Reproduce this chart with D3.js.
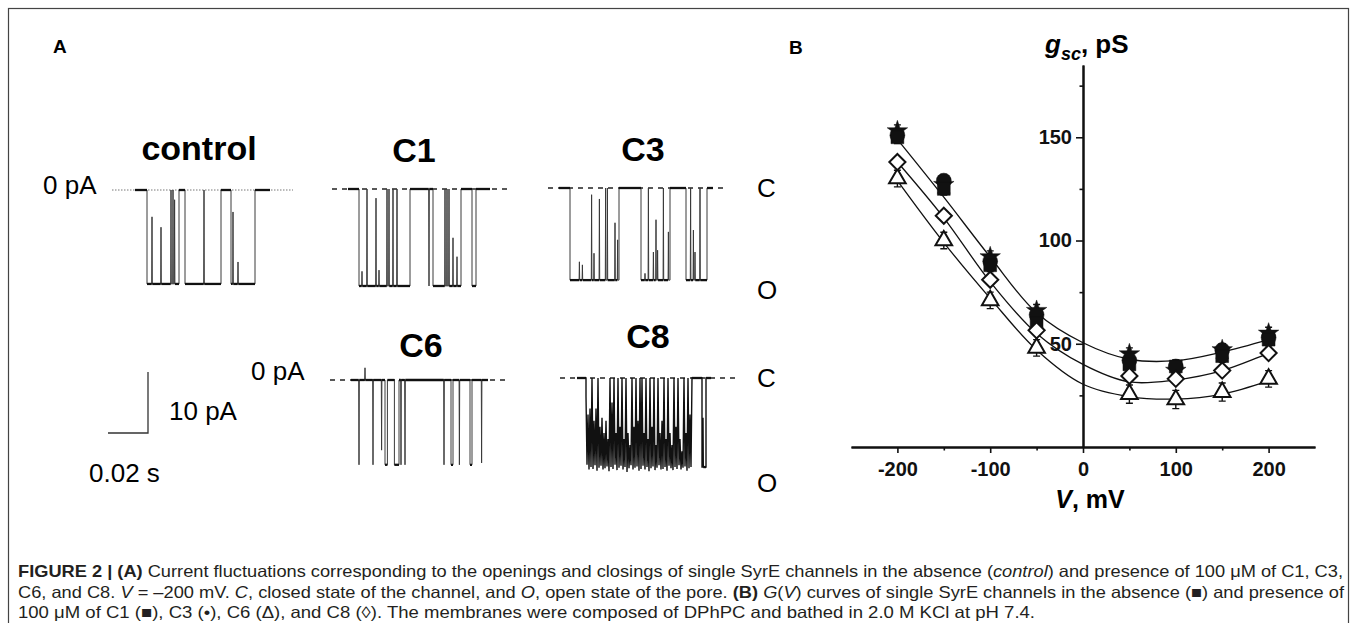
<!DOCTYPE html>
<html>
<head>
<meta charset="utf-8">
<script src="https://cdn.jsdelivr.net/npm/d3@7"></script>
<style>
  body { margin: 0; background: #fff; }
  svg { display: block; font-family: "Liberation Sans", Arial, sans-serif; }
</style>
</head>
<body>
<svg id="fig" width="1357" height="623"></svg>
<script>
// ---------- panel A : single channel records (time in ms, current in pA) ----------
// open dwell intervals [from, to] and brief excursions [time, current reached]
var ctrlOpen = [[6, 22], [25, 43], [48, 60]];
var ctrlSpikes = [[8.5, -4.4], [13, -6.1], [18, 0], [19, 0], [19.8, -1.6], [34.5, 0], [49, -3.6], [51.5, -11.8]];

var c1Open = [[5.5, 31], [42.5, 56.5], [62, 64]];
var c1Spikes = [[7, -13.5], [9.5, 0], [14, -1.5], [15.5, -13.3], [19.5, 0], [20.5, 0], [22.5, 0], [24.5, 0],
                [40.5, -15.9], [48.5, 0], [49.5, 0], [50.5, 0], [52.5, -8], [54.5, -11.1]];

var c3Open = [[5.5, 30], [41, 55.5], [63.5, 74]];
var c3Spikes = [[10.2, -12.1], [11.7, -12.6], [16.3, -1.1], [17.5, -10.7], [20.2, -1.8], [23.3, 0], [24.2, 0],
                [28, -5.7], [29.3, -8.5], [43, -14], [44.7, 0], [47.2, -10.5], [48.5, -5.2], [49.3, -10.2],
                [52.2, 0], [54.7, -7.2], [65.8, 0], [67.2, -6.9], [68, -10.5], [70.5, 0]];

var c6Open = [[17, 18.2], [21.7, 24], [50, 51], [59.5, 60.5]];
var c6Spikes = [[4, -13.9], [7, 2], [11, -13.9], [15.3, -11.5], [25, -13.9], [27, -13.9],
                [46.5, -13.9], [54.2, -13.9], [65.3, -13.6]];

var c8Open = [[62.5, 64.5]];
var c8Spikes = [[63, -6.5]];
// fast flicker burst of C8 (4.5 - 57.5 ms): shallow peaks and deep (open) troughs, one pair per ms
var c8Shallow = [-3, -6, -5, 0, -7, -5, 0, -8, -6.5, -9, -7, -10, 0, -4, 0, -9, 0, -8, 0, -10, 0, -9, -11, 0,
                 -8, 0, -7, 0, 0, -9, 0, -10, 0, -8, 0, -11, 0, -9, -7, 0, -10, 0, -9, -11, 0, -8, 0, -10,
                 -12, 0, -9, 0, -6];
var c8Deep = [-14.2, -15.0, -14.6, -14.9, -14.3, -15.2, -14.7, -14.4, -15.0, -14.8, -14.5, -15.3, -14.6,
              -14.9, -14.2, -15.1, -14.7, -14.4, -15.0, -14.6, -15.4, -14.8, -14.3, -15.0, -14.7, -14.5,
              -15.2, -14.9, -14.4, -15.0, -14.6, -15.3, -14.8, -14.5, -15.1, -14.7, -14.3, -15.0, -14.9,
              -14.6, -15.2, -14.4, -14.8, -15.1, -14.6, -14.9, -14.3, -15.0, -14.7, -14.5, -15.2, -14.8, -14.6];

var traceNames = ["control", "C1", "C3", "C6", "C8"];
var openAmps = [-15.4, -15.9, -15.1, -13.9, -14.6];   // pA
var traceEnds = [67.5, 71, 77, 68.5, 67];             // ms

// ---------- panel B : g(V) ----------
var vPoints = [-200, -150, -100, -50, 50, 100, 150, 200];
var gControl = [150, 125, 88, 60, 40, 39, 44, 52];      // filled square
var gC1 = [153, 127, 92, 66, 45, 37, 47, 55];           // star
var gC3 = [151, 129, 90, 64, 42, 39, 47, 53];           // filled circle
var gC6 = [130, 100, 71, 48, 25.6, 23, 26.6, 33];       // open triangle
var gC8 = [138, 112, 81, 56.5, 34.4, 33, 37, 45.5];     // open diamond
var errFilled = [3, 3, 3, 3, 3, 3, 3, 3];
var errC6 = [4, 4, 4, 4, 4.4, 4.4, 4.4, 4];
var errC8 = [2, 2, 2, 2, 2, 2, 2, 2];

var fitV = [-200, -150, -100, -50, 0, 50, 100, 150, 200];
var fitTop = [149, 121, 92, 65, 50.5, 42.5, 41.8, 46, 52];
var fitMid = [138, 111, 80, 55, 40, 31.5, 32.5, 37, 45.5];
var fitLow = [129, 99, 72, 47, 30.4, 24.4, 23.2, 25.6, 32];

var xTicksMajor = [-200, -100, 0, 100, 200];
var xTicksMinor = [-150, -50, 50, 150];
var yTicksMajor = [50, 100, 150];
var yTicksMinor = [25, 75, 125, 175];

var svg = d3.select("#fig");

// frame
svg.append("rect")
    .attr("x", 8.5).attr("y", 8.5)
    .attr("width", 1340).attr("height", 700)
    .attr("fill", "none").attr("stroke", "#444").attr("stroke-width", 1.2);

svg.append("text").attr("x", 53).attr("y", 53)
    .style("font-size", "19px").style("font-weight", "bold").text("A");
svg.append("text").attr("x", 789).attr("y", 54)
    .style("font-size", "19px").style("font-weight", "bold").text("B");

// ================= panel A =================
var gA = svg.append("g");

// where each record sits: time origin, closed level, baseline extent, label
var layout = [
    {x0: 135, y0: 190, base: [-11.5, 79], dotted: true, lx: 199, ly: 160},
    {x0: 348, y0: 189, base: [-8, 82], lx: 414, ly: 162},
    {x0: 559, y0: 188, base: [-5.5, 84.5], lx: 643, ly: 161},
    {x0: 351, y0: 380, base: [-10.5, 79.5], lx: 421, ly: 357},
    {x0: 577, y0: 378, base: [-8.5, 81.5], lx: 648, ly: 348}
];
var opens = [ctrlOpen, c1Open, c3Open, c6Open, c8Open];
var spikes = [ctrlSpikes, c1Spikes, c3Spikes, c6Spikes, c8Spikes];
var bursts = [null, null, null, null, {start: 4.5, end: 57.5, shallow: c8Shallow, deep: c8Deep}];

var pxPerMs = 2, pxPerPa = 6.1;

function buildPoints(i) {
    var amp = openAmps[i];
    var items = [];
    opens[i].forEach(function(d) {
        items.push({t: d[0], type: "down"});
        items.push({t: d[1], type: "up"});
    });
    spikes[i].forEach(function(d) { items.push({t: d[0], type: "spike", v: d[1]}); });
    if (bursts[i]) items.push({t: bursts[i].start, type: "burst"});
    items.sort(function(a, b) { return a.t - b.t; });

    var level = 0, pts = [[0, 0]];
    items.forEach(function(it) {
        if (it.type == "down") {
            pts.push([it.t, level]); level = amp; pts.push([it.t, level]);
        } else if (it.type == "up") {
            pts.push([it.t, level]); level = 0; pts.push([it.t, level]);
        } else if (it.type == "spike") {
            pts.push([it.t - 0.15, level]); pts.push([it.t, it.v]); pts.push([it.t + 0.15, level]);
        } else {
            var b = bursts[i];
            pts.push([b.start, level]);
            var n = Math.min(b.shallow.length, b.deep.length);
            for (var k = 0; k < n; k++) {
                pts.push([b.start + k, b.shallow[k]]);
                pts.push([b.start + k + 0.5, b.deep[k]]);
            }
            pts.push([b.end, level]);
        }
    });
    pts.push([traceEnds[i], level]);
    return pts;
}

layout.forEach(function(L, i) {
    var x = d3.scaleLinear().domain([0, 20]).range([L.x0, L.x0 + 20 * pxPerMs]);
    var y = d3.scaleLinear().domain([0, -10]).range([L.y0, L.y0 + 10 * pxPerPa]);

    // closed-level reference line
    gA.append("line")
        .attr("x1", x(L.base[0])).attr("x2", x(L.base[1]))
        .attr("y1", y(0)).attr("y2", y(0))
        .attr("stroke", L.dotted ? "#777" : "#222")
        .attr("stroke-width", L.dotted ? 1 : 1.3)
        .attr("stroke-dasharray", L.dotted ? "1.5,1.5" : "5,5");

    var pts = buildPoints(i);
    var line = d3.line().x(function(d) { return x(d[0]); }).y(function(d) { return y(d[1]); });

    gA.append("path").attr("d", line(pts))
        .attr("fill", "none")
        .attr("stroke", bursts[i] ? "#111" : "#3a3a3a")
        .attr("stroke-width", bursts[i] ? 1.4 : 1);

    // noisy dwell levels look thicker
    for (var k = 0; k < pts.length - 1; k++) {
        if (pts[k][1] === pts[k + 1][1] && pts[k + 1][0] - pts[k][0] > 0.8) {
            gA.append("line")
                .attr("x1", x(pts[k][0])).attr("x2", x(pts[k + 1][0]))
                .attr("y1", y(pts[k][1])).attr("y2", y(pts[k][1]))
                .attr("stroke", "#111").attr("stroke-width", 2.3);
        }
    }

    gA.append("text").attr("x", L.lx).attr("y", L.ly)
        .attr("text-anchor", "middle")
        .style("font-size", "34px").style("font-weight", "bold")
        .text(traceNames[i]);
});

var plain = function(x, y, t) {
    return gA.append("text").attr("x", x).attr("y", y).style("font-size", "26px").text(t);
};
plain(43, 194, "0 pA");
plain(251, 380, "0 pA");
plain(757, 197, "C");
plain(757, 299, "O");
plain(757, 387, "C");
plain(757, 492, "O");

// scale bar: 20 ms and 10 pA
var sbX = d3.scaleLinear().domain([0, 20]).range([108, 108 + 20 * pxPerMs]);
var sbY = d3.scaleLinear().domain([0, 10]).range([433, 433 - 10 * pxPerPa]);
gA.append("path")
    .attr("d", "M" + sbX(0) + "," + sbY(0) + "H" + sbX(20) + "V" + sbY(10))
    .attr("fill", "none").attr("stroke", "#333").attr("stroke-width", 1.3);
plain(169, 420, "10 pA");
plain(89, 482, "0.02 s");

// ================= panel B =================
var xB = d3.scaleLinear().domain([-250, 250]).range([851, 1315]);
var yB = d3.scaleLinear().domain([0, 185]).range([447, 65]);
var gB = svg.append("g");

var xAxis = gB.append("g").attr("transform", "translate(0," + yB(0) + ")")
    .call(d3.axisBottom(xB).tickValues(xTicksMajor).tickSize(6).tickSizeOuter(0).tickPadding(9)
        .tickFormat(function(d) { return String(d); }));
gB.append("g").attr("transform", "translate(0," + yB(0) + ")")
    .call(d3.axisBottom(xB).tickValues(xTicksMinor).tickSize(3.5).tickSizeOuter(0).tickFormat(""));

var yAxis = gB.append("g").attr("transform", "translate(" + xB(0) + ",0)")
    .call(d3.axisLeft(yB).tickValues(yTicksMajor).tickSize(7).tickSizeOuter(0).tickPadding(4));
gB.append("g").attr("transform", "translate(" + xB(0) + ",0)")
    .call(d3.axisLeft(yB).tickValues(yTicksMinor).tickSize(3.5).tickSizeOuter(0).tickFormat(""));

gB.selectAll(".domain").attr("stroke", "#111").attr("stroke-width", 2);
gB.selectAll(".tick line").attr("stroke", "#111").attr("stroke-width", 1.6);
gB.selectAll(".tick text")
    .attr("fill", "#111")
    .style("font-family", "'Liberation Sans', Arial, sans-serif")
    .style("font-size", "20px").style("font-weight", "bold");

// axis titles
gB.append("text").attr("x", 1090).attr("y", 508).attr("text-anchor", "middle")
    .style("font-size", "25px").style("font-weight", "bold")
    .call(function(t) {
        t.append("tspan").style("font-style", "italic").text("V");
        t.append("tspan").text(", mV");
    });
gB.append("text").attr("x", 1045).attr("y", 53)
    .style("font-size", "26px").style("font-weight", "bold")
    .call(function(t) {
        t.append("tspan").style("font-style", "italic").text("g");
        t.append("tspan").style("font-style", "italic").style("font-size", "18px").attr("dy", 7).text("sc");
        t.append("tspan").attr("dy", -7).text(", pS");
    });

// fitted curves
var fitLine = d3.line().curve(d3.curveCatmullRom.alpha(0.5))
    .x(function(d) { return xB(d[0]); }).y(function(d) { return yB(d[1]); });
[fitTop, fitMid, fitLow].forEach(function(s) {
    gB.append("path").attr("d", fitLine(fitV.map(function(v, k) { return [v, s[k]]; })))
        .attr("fill", "none").attr("stroke", "#111").attr("stroke-width", 1.3);
});

function errBars(vals, errs) {
    vals.forEach(function(g, k) {
        var cx = xB(vPoints[k]);
        gB.append("path")
            .attr("d", "M" + cx + "," + yB(g - errs[k]) + "V" + yB(g + errs[k]) +
                "M" + (cx - 3.5) + "," + yB(g - errs[k]) + "h7" +
                "M" + (cx - 3.5) + "," + yB(g + errs[k]) + "h7")
            .attr("fill", "none").attr("stroke", "#111").attr("stroke-width", 1.4);
    });
}
function markers(vals, shape, size, filled) {
    gB.selectAll(null).data(vals).enter().append("path")
        .attr("transform", function(d, k) { return "translate(" + xB(vPoints[k]) + "," + yB(d) + ")"; })
        .attr("d", d3.symbol().type(shape).size(size))
        .attr("fill", filled ? "#111" : "#fff")
        .attr("stroke", "#111").attr("stroke-width", filled ? 0.5 : 2);
}
// square rotated by 45 degrees
var diamondSq = {
    draw: function(ctx, size) {
        var r = Math.sqrt(size / 2);
        ctx.moveTo(0, -r); ctx.lineTo(r, 0); ctx.lineTo(0, r); ctx.lineTo(-r, 0); ctx.closePath();
    }
};

errBars(gC1, errFilled);
errBars(gC3, errFilled);
errBars(gControl, errFilled);
errBars(gC6, errC6);
errBars(gC8, errC8);
markers(gC1, d3.symbolStar, 130, true);
markers(gC3, d3.symbolCircle, 175, true);
markers(gControl, d3.symbolSquare, 165, true);
markers(gC6, d3.symbolTriangle, 120, false);
markers(gC8, diamondSq, 130, false);

// ================= caption =================
var capLines = [
    {y: 577, w: 1325, parts: [
        ["FIGURE 2 | (A)", "b"],
        [" Current fluctuations corresponding to the openings and closings of single SyrE channels in the absence (", ""],
        ["control", "i"],
        [") and presence of 100 \u03BCM of C1, C3,", ""]]},
    {y: 598, w: 1326, parts: [
        ["C6, and C8. ", ""], ["V", "i"], [" = \u2013200 mV. ", ""], ["C", "i"],
        [", closed state of the channel, and ", ""], ["O", "i"], [", open state of the pore. ", ""],
        ["(B)", "b"], [" ", ""], ["G", "i"], ["(", ""], ["V", "i"],
        [") curves of single SyrE channels in the absence (\u25A0) and presence of", ""]]},
    {y: 618, w: 1017, parts: [
        ["100 \u03BCM of C1 (\u25A0), C3 (\u2022), C6 (\u0394), and C8 (\u25CA). The membranes were composed of DPhPC and bathed in 2.0 M KCl at pH 7.4.", ""]]}
];
capLines.forEach(function(l) {
    var t = svg.append("text").attr("x", 18).attr("y", l.y)
        .attr("textLength", l.w).attr("lengthAdjust", "spacingAndGlyphs")
        .attr("fill", "#231f20").style("font-size", "16.5px");
    l.parts.forEach(function(p) {
        var s = t.append("tspan").text(p[0]);
        if (p[1] == "b") s.style("font-weight", "bold");
        if (p[1] == "i") s.style("font-style", "italic");
    });
});
</script>
</body>
</html>
